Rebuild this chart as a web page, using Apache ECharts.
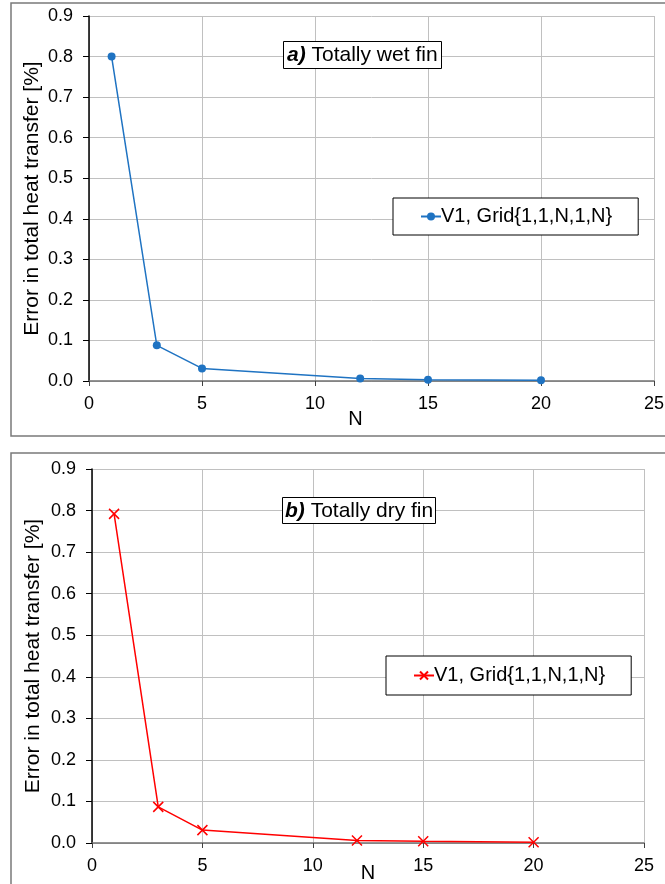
<!DOCTYPE html>
<html><head><meta charset="utf-8">
<script src="https://cdn.jsdelivr.net/npm/echarts@6/dist/echarts.min.js"></script>
<style>html,body{margin:0;padding:0;background:#fff}#c{width:665px;height:884px}</style>
</head><body><div id="c"></div>
<script>
const nValues = [1, 3, 5, 12, 15, 20];
const wetError = [0.800, 0.088, 0.031, 0.006, 0.003, 0.002];
const dryError = [0.792, 0.087, 0.031, 0.006, 0.004, 0.002];
const seriesName = 'V1, Grid{1,1,N,1,N}';
const yName = 'Error in total heat transfer [%]';
const xName = 'N';
const titleA = 'a)';
const titleAText = ' Totally wet fin';
const titleB = 'b)';
const titleBText = ' Totally dry fin';

const chart = echarts.init(document.getElementById('c'));
const font = 'Liberation Sans, Arial, sans-serif';
function xAxis(gi) {
  return {
    gridIndex: gi, type: 'value', min: 0, max: 25, interval: 5,
    name: xName, nameLocation: 'middle', nameGap: gi === 0 ? 28 : 20, nameMoveOverlap: false,
    nameTextStyle: {fontFamily: font, fontSize: 20, color: '#000', padding: gi === 0 ? [0, 32, 0, 0] : 0},
    axisLine: {show: true, lineStyle: {color: '#707070', width: 1.5}},
    axisTick: {show: true, inside: false, length: 5, lineStyle: {color: '#404040'}},
    axisLabel: {fontFamily: font, fontSize: 18, color: '#000', margin: 14},
    splitLine: {show: true, lineStyle: {color: '#c0c0c0', width: 1}}
  };
}
function yAxis(gi) {
  return {
    gridIndex: gi, type: 'value', min: 0, max: 0.9, interval: 0.1,
    name: yName, nameLocation: 'middle', nameGap: gi === 0 ? 46 : 48, nameMoveOverlap: false,
    nameTextStyle: {fontFamily: font, fontSize: 21, color: '#000'},
    axisLine: {show: true, lineStyle: {color: '#000', width: 1.5}},
    axisTick: {show: true, inside: false, length: 6, lineStyle: {color: '#000'}},
    axisLabel: {fontFamily: font, fontSize: 18, color: '#000', margin: 16, formatter: v => v.toFixed(1)},
    splitLine: {show: true, lineStyle: {color: '#c0c0c0', width: 1}}
  };
}
const crossPath = 'path://M0,0L10,10M10,0L0,10';
const titleStyle = {fontFamily: font, fontSize: 21, lineHeight: 24, fontWeight: 'normal', color: '#000',
  rich: {b: {fontFamily: font, fontSize: 21, lineHeight: 24, fontStyle: 'italic', fontWeight: 'bold', color: '#000'},
         t: {fontFamily: font, fontSize: 21, lineHeight: 24, color: '#000'}}};
chart.setOption({
  animation: false,
  backgroundColor: '#fff',
  graphic: [
    {type: 'rect', shape: {x: 11, y: 3, width: 660, height: 433}, style: {fill: 'none', stroke: '#7a7a7a', lineWidth: 1.5}, z: -1},
    {type: 'rect', shape: {x: 11, y: 453, width: 660, height: 440}, style: {fill: 'none', stroke: '#7a7a7a', lineWidth: 1.5}, z: -1}
  ],
  title: [
    {text: '{b|' + titleA + '}{t|' + titleAText + '}', left: 283, top: 41, padding: [2, 4, 2, 4], borderColor: '#000', borderWidth: 1, backgroundColor: '#fff', textStyle: titleStyle},
    {text: '{b|' + titleB + '}{t|' + titleBText + '}', left: 282, top: 497, padding: [2, 3, 1, 3], borderColor: '#000', borderWidth: 1, backgroundColor: '#fff', textStyle: titleStyle}
  ],
  legend: [
    {data: ['wet'], formatter: () => seriesName, left: 393, top: 198, padding: [8, 26, 8, 27], borderColor: '#000', borderWidth: 1, backgroundColor: '#fff',
     itemWidth: 20, itemHeight: 10, itemGap: 0, textStyle: {fontFamily: font, fontSize: 20, lineHeight: 21, color: '#000', padding: [0, 0, 0, -5]},
     selectedMode: false},
    {data: ['dry'], formatter: () => seriesName, left: 386, top: 656, padding: [9, 26, 9, 27], borderColor: '#000', borderWidth: 1, backgroundColor: '#fff',
     itemWidth: 20, itemHeight: 10, itemGap: 0, textStyle: {fontFamily: font, fontSize: 20, lineHeight: 21, color: '#000', padding: [0, 0, 0, -5]},
     selectedMode: false}
  ],
  grid: [
    {left: 89, top: 16, width: 565, height: 365, outerBoundsMode: 'none', containLabel: false},
    {left: 92, top: 469, width: 552, height: 374, outerBoundsMode: 'none', containLabel: false}
  ],
  xAxis: [xAxis(0), xAxis(1)],
  yAxis: [yAxis(0), yAxis(1)],
  series: [
    {name: 'wet', type: 'line', xAxisIndex: 0, yAxisIndex: 0,
     data: nValues.map((n, i) => [n, wetError[i]]),
     symbol: 'circle', symbolSize: 8, lineStyle: {color: '#1f73c2', width: 1.5}, itemStyle: {color: '#1f73c2'}},
    {name: 'dry', type: 'line', xAxisIndex: 1, yAxisIndex: 1,
     data: nValues.map((n, i) => [n, dryError[i]]),
     symbol: crossPath, symbolSize: 10, lineStyle: {color: '#ff0000', width: 1.5},
     itemStyle: {color: '#ff0000', borderColor: '#ff0000', borderWidth: 1.5}}
  ]
});
</script></body></html>
